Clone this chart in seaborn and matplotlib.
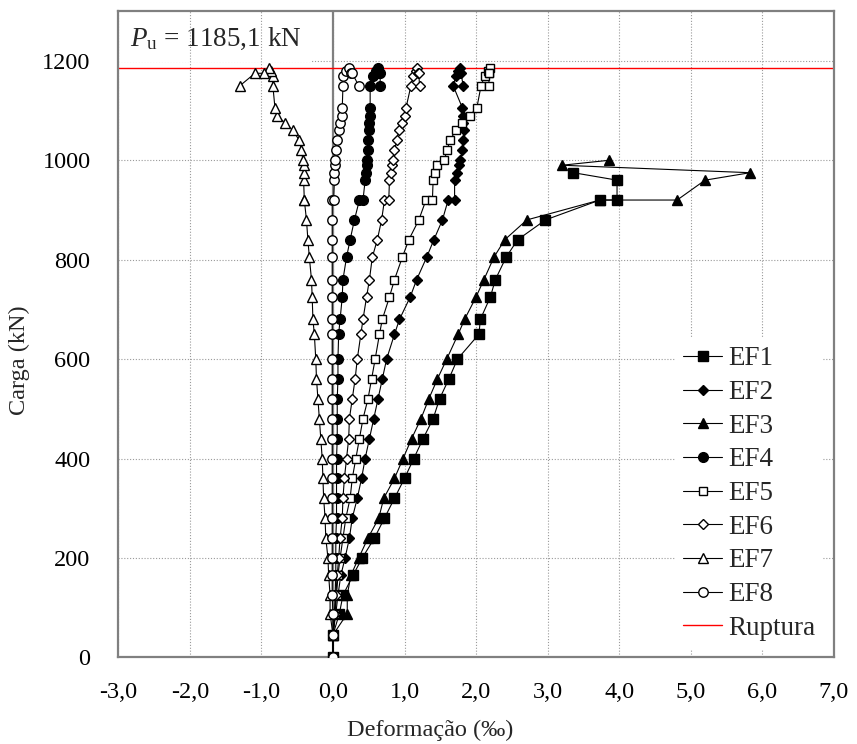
import matplotlib
matplotlib.use("Agg")
import matplotlib.pyplot as plt
import seaborn as sns
from matplotlib.ticker import FuncFormatter, MultipleLocator

sns.set_style("white")
plt.rcParams["font.family"] = ["Liberation Serif", "DejaVu Serif"]
plt.rcParams["mathtext.fontset"] = "custom"
plt.rcParams["mathtext.rm"] = "Liberation Serif"
plt.rcParams["mathtext.it"] = "Liberation Serif:italic"

# ---------------------------------------------------------------------------
# Data (deformation in per mille, load in kN)
# ---------------------------------------------------------------------------
p_ruptura = 1185.1

ef1_carga = [0, 45, 88, 125, 165, 200, 240, 280, 320, 360, 400, 440, 480, 520,
             560, 600, 650, 680, 725, 760, 805, 840, 880, 920, 920, 960, 975]
ef1_def = [0, 0, 0.09, 0.14, 0.28, 0.41, 0.58, 0.72, 0.86, 1.00, 1.13, 1.26, 1.40, 1.49,
           1.62, 1.74, 2.04, 2.06, 2.20, 2.27, 2.42, 2.58, 2.97, 3.73, 3.97, 3.97, 3.36]

ef3_carga = [0, 45, 88, 125, 165, 200, 240, 280, 320, 360, 400, 440, 480, 520,
             560, 600, 650, 680, 725, 760, 805, 840, 880, 920, 920, 960, 975, 990, 1000]
ef3_def = [0, 0, 0.20, 0.20, 0.25, 0.36, 0.49, 0.64, 0.71, 0.86, 0.98, 1.10, 1.23, 1.34,
           1.46, 1.59, 1.75, 1.84, 2.00, 2.11, 2.25, 2.40, 2.71, 3.73, 4.81, 5.20, 5.83, 3.20, 3.86]

# load steps shared by the other gauges
carga = [0, 45, 88, 125, 165, 200, 240, 280, 320, 360,
         400, 440, 480, 520, 560, 600, 650, 680, 725, 760,
         805, 840, 880, 920, 920, 960, 975, 990, 1000, 1020,
         1040, 1060, 1075, 1090, 1105,
         1150, 1170, 1180, 1185, 1175, 1175, 1150]

ef2_def = [0, 0, 0.04, 0.07, 0.11, 0.17, 0.23, 0.27, 0.34, 0.40,
           0.45, 0.51, 0.57, 0.63, 0.69, 0.75, 0.86, 0.93, 1.08, 1.17,
           1.31, 1.41, 1.53, 1.61, 1.70, 1.70, 1.74, 1.76, 1.78, 1.81,
           1.82, 1.83, 1.82, 1.82, 1.81,
           1.68, 1.72, 1.75, 1.77, 1.78, 1.79, 1.82]
ef4_def = [0, 0, 0.02, 0.03, 0.04, 0.04, 0.04, 0.05, 0.05, 0.05,
           0.05, 0.06, 0.06, 0.06, 0.07, 0.07, 0.08, 0.10, 0.13, 0.14,
           0.19, 0.24, 0.30, 0.37, 0.42, 0.45, 0.46, 0.47, 0.48, 0.49,
           0.49, 0.50, 0.51, 0.52, 0.52,
           0.52, 0.56, 0.60, 0.63, 0.65, 0.66, 0.66]
ef5_def = [0, 0, 0.03, 0.05, 0.07, 0.10, 0.14, 0.18, 0.24, 0.27,
           0.32, 0.37, 0.42, 0.49, 0.54, 0.59, 0.65, 0.69, 0.79, 0.86,
           0.97, 1.06, 1.20, 1.30, 1.39, 1.40, 1.43, 1.45, 1.55, 1.60,
           1.63, 1.72, 1.81, 1.91, 2.01,
           2.07, 2.12, 2.17, 2.19, 2.18, 2.18, 2.18]
ef6_def = [0, 0, 0.03, 0.04, 0.06, 0.08, 0.10, 0.13, 0.14, 0.16,
           0.19, 0.22, 0.23, 0.27, 0.31, 0.34, 0.39, 0.42, 0.47, 0.51,
           0.55, 0.62, 0.68, 0.72, 0.78, 0.79, 0.81, 0.82, 0.84, 0.86,
           0.89, 0.92, 0.96, 1.00, 1.02,
           1.09, 1.12, 1.16, 1.18, 1.19, 1.20, 1.21]
ef7_def = [0, 0, -0.04, -0.04, -0.06, -0.07, -0.10, -0.11, -0.13, -0.14,
           -0.15, -0.17, -0.19, -0.21, -0.23, -0.24, -0.26, -0.28, -0.29, -0.30,
           -0.33, -0.35, -0.37, -0.40, -0.40, -0.41, -0.41, -0.41, -0.42, -0.44,
           -0.47, -0.56, -0.67, -0.78, -0.81,
           -0.84, -0.84, -0.86, -0.90, -0.97, -1.09, -1.30]
ef8_def = [0, 0, 0, -0.01, -0.01, -0.01, -0.01, -0.01, -0.01, -0.01,
           -0.01, -0.01, -0.01, -0.01, -0.01, -0.01, -0.01, -0.01, -0.01, -0.01,
           -0.01, -0.01, -0.01, -0.01, 0.01, 0.02, 0.02, 0.03, 0.03, 0.04,
           0.05, 0.08, 0.10, 0.12, 0.13,
           0.14, 0.14, 0.18, 0.22, 0.25, 0.27, 0.36]

# label, x, y, marker, face colour, marker size
series = [
    ("EF1", ef1_def, ef1_carga, "s", "black", 7),
    ("EF2", ef2_def, carga, "D", "black", 4.6),
    ("EF3", ef3_def, ef3_carga, "^", "black", 7.5),
    ("EF4", ef4_def, carga, "o", "black", 7),
    ("EF5", ef5_def, carga, "s", "white", 5.5),
    ("EF6", ef6_def, carga, "D", "white", 4.6),
    ("EF7", ef7_def, carga, "^", "white", 7.5),
    ("EF8", ef8_def, carga, "o", "white", 6.8),
]

# ---------------------------------------------------------------------------
# Plot
# ---------------------------------------------------------------------------
fig = plt.figure(figsize=(8.57, 7.44), dpi=100)
ax = fig.add_axes([0.138, 0.1165, 0.835, 0.8685])

for label, x, y, mk, face, ms in series:
    sns.lineplot(x=x, y=y, sort=False, estimator=None, ax=ax, color="black",
                 lw=0.8, marker=mk, markersize=ms, markerfacecolor=face,
                 markeredgecolor="black", markeredgewidth=1.0, label=label, zorder=3)

ax.axhline(p_ruptura, color="red", lw=1.0, label="Ruptura", zorder=2)
ax.axvline(0, color="#808080", lw=1.6, zorder=1.6)

ax.set_xlim(-3, 7)
ax.set_ylim(0, 1300)
ax.xaxis.set_major_locator(MultipleLocator(1))
ax.set_yticks(range(0, 1201, 200))
ax.xaxis.set_major_formatter(FuncFormatter(lambda v, p: f"{v:.1f}".replace(".", ",")))

# grid: horizontal lines below the P_u box, vertical lines above it
grid_style = dict(color="#9a9a9a", lw=0.8, linestyle=(0, (1, 1.6)))
ax.set_axisbelow(True)
ax.grid(axis="y", **grid_style)
for xv in ax.get_xticks()[1:-1]:
    ax.axvline(xv, zorder=1.2, **grid_style)

for sp in ax.spines.values():
    sp.set_color("#808080")
    sp.set_linewidth(1.6)

ax.tick_params(length=0, labelsize=17.5, colors="black")
ax.tick_params(axis="y", pad=20)
ax.tick_params(axis="x", pad=18)
ax.set_xlabel("Deformação (‰)", fontsize=17.5)
ax.set_ylabel("Carga (kN)", fontsize=17.5)
ax.xaxis.set_label_coords(0.436, -0.097)
ax.yaxis.set_label_coords(-0.123, 0.46)

ax.text(0.016, 0.978, r"$P_\mathrm{u}$" + f" = {p_ruptura:.1f} kN".replace(".", ","),
        transform=ax.transAxes, fontsize=19.5, va="top", ha="left", zorder=1.1,
        bbox=dict(boxstyle="square,pad=0.4", fc="white", ec="none"))

leg = ax.legend(loc="lower right", bbox_to_anchor=(0.985, 0.013), borderaxespad=0,
                fontsize=19.5, frameon=True, fancybox=False, framealpha=1,
                edgecolor="none", facecolor="white", handlelength=1.45,
                handletextpad=0.2, labelspacing=0.32, borderpad=0.3)
leg.set_zorder(5)

fig.savefig("out.png", dpi=100)
